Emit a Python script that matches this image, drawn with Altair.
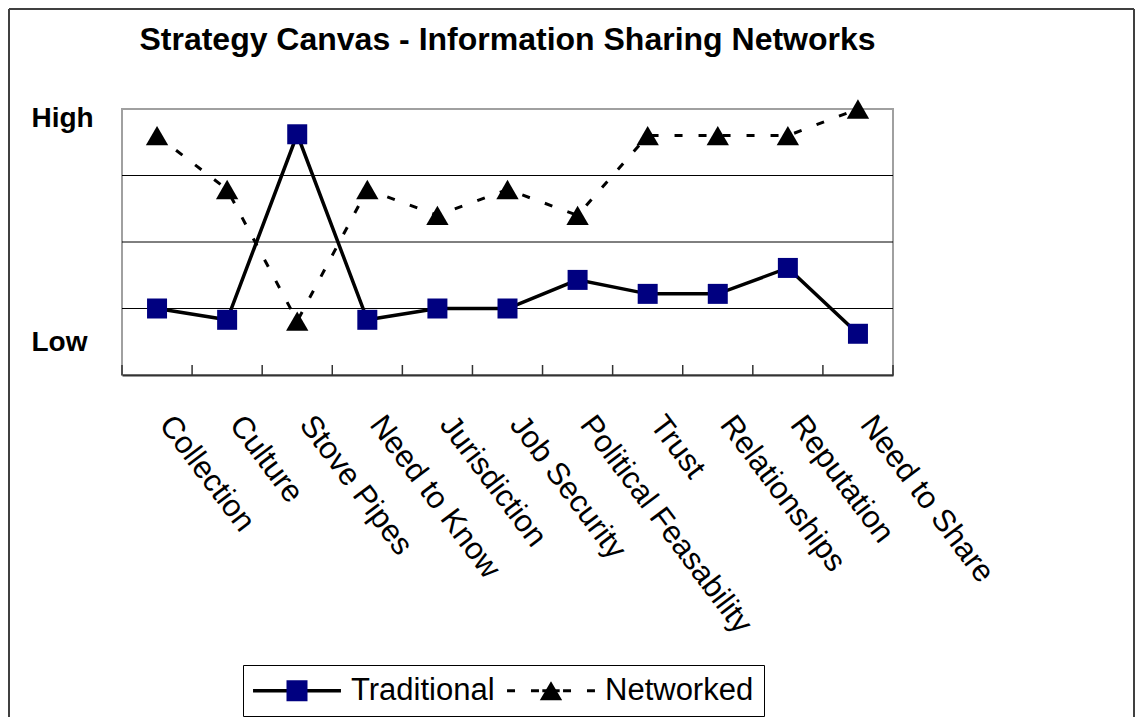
import json
import altair as alt
import pandas as pd

# ---------------- data ----------------
categories = ["Collection", "Culture", "Stove Pipes", "Need to Know", "Jurisdiction",
              "Job Security", "Political Feasability", "Trust", "Relationships",
              "Reputation", "Need to Share"]
traditional = [1.0, 0.83, 3.62, 0.83, 1.0, 1.0, 1.43, 1.22, 1.22, 1.61, 0.62]
networked = [3.60, 2.79, 0.81, 2.79, 2.40, 2.79, 2.40, 3.60, 3.60, 3.60, 4.0]
series_names = ["Traditional", "Networked"]
series_colors = ["#000080", "#000000"]
grid_levels = [1, 2, 3]
level_labels = ["Low", "High"]
level_positions = [0.37, 3.73]
title_text = "Strategy Canvas - Information Sharing Networks"

FONT = "Liberation Sans"
W, H = 771, 266

rows = []
for i, c in enumerate(categories):
    rows.append({"idx": i + 1, "category": c, "series": "Traditional", "value": traditional[i]})
    rows.append({"idx": i + 1, "category": c, "series": "Networked", "value": networked[i]})
df = pd.DataFrame(rows)
bounds_df = pd.DataFrame({"idx": [i + 0.5 for i in range(len(categories) + 1)]})
grid_df = pd.DataFrame({"value": grid_levels})
title_df = pd.DataFrame({"t": [title_text]})
one_df = pd.DataFrame({"k": [0]})

x_label_expr = json.dumps(categories) + "[datum.value - 1]"
y_label_expr = "datum.value > 2 ? '%s' : '%s'" % (level_labels[1], level_labels[0])

x_enc = alt.X(
    "idx:Q",
    scale=alt.Scale(domain=[0.5, len(categories) + 0.5], nice=False, zero=False),
    axis=alt.Axis(values=list(range(1, len(categories) + 1)), labelExpr=x_label_expr,
                  title=None, grid=False, ticks=False, tickSize=0, domain=True,
                  domainColor="#333333", domainWidth=2, labelAngle=53, labelAlign="left",
                  labelBaseline="middle", labelPadding=44, labelOffset=8,
                  labelFontSize=31, labelFont=FONT, labelColor="black",
                  labelFlush=False, labelOverlap=False, labelLimit=500, labelBound=False),
)
y_enc = alt.Y(
    "value:Q",
    scale=alt.Scale(domain=[0, 4], nice=False, zero=False),
    axis=alt.Axis(values=level_positions, labelExpr=y_label_expr, title=None, grid=False,
                  ticks=False, tickSize=0, domain=False, labelAlign="left",
                  labelBaseline="alphabetic", labelPadding=91, labelFontSize=28,
                  labelFontWeight="bold", labelFont=FONT, labelColor="black",
                  labelFlush=False, labelOverlap=False),
)

# legend symbols, unit = 14px; part A = line (black), part B = marker (series colour)
SPAN = "M-3.14,0L3.14,0M0,-0.8L0,0.8"
trad_line_path = "M-3.14,-0.12H3.14V0.12H-3.14Z" + SPAN
net_line_path = ("M-3.14,-0.11H-2.57V0.11H-3.14Z"
                 "M-1.43,-0.11H-0.86V0.11H-1.43Z"
                 "M-0.62,-0.11H0.62V0.11H-0.62Z"
                 "M0.86,-0.11H1.43V0.11H0.86Z"
                 "M2.57,-0.11H3.14V0.11H2.57Z" + SPAN)
trad_mark_path = "M-0.75,-0.75H0.75V0.75H-0.75Z" + SPAN
net_mark_path = "M0,-0.68L0.8,0.68L-0.8,0.68Z" + SPAN

common_legend = dict(orient="none", legendX=121, legendY=556, direction="horizontal",
                     title=None, padding=10, labelFontSize=31, labelFont=FONT,
                     symbolSize=784, symbolOffset=28.5, labelOffset=38.5,
                     columnPadding=12, symbolStrokeWidth=0, symbolOpacity=1)
legend_a = alt.Legend(strokeColor="black", labelColor="black", **common_legend)
legend_b = alt.Legend(labelColor="black", labelOpacity=0, **common_legend)

# ---------------- layers ----------------
frame_left = alt.Chart(one_df).mark_rule(color="#404040", strokeWidth=2).encode(
    x=alt.value(-113), y=alt.value(-100), y2=alt.value(620))
frame_right = alt.Chart(one_df).mark_rule(color="#404040", strokeWidth=2).encode(
    x=alt.value(1012), y=alt.value(-100), y2=alt.value(620))
frame_top = alt.Chart(one_df).mark_rule(color="#404040", strokeWidth=2).encode(
    x=alt.value(-113), x2=alt.value(1012), y=alt.value(-100))

title = alt.Chart(title_df).mark_text(font=FONT, fontSize=32, fontWeight="bold",
                                      align="center", baseline="alphabetic",
                                      color="black").encode(
    text="t:N", x=alt.value(W / 2), y=alt.value(-59))

grid = alt.Chart(grid_df).mark_rule(color="black", strokeWidth=1).encode(y=y_enc)

ticks = alt.Chart(bounds_df).mark_rule(color="#333333", strokeWidth=1.5).encode(
    x=x_enc, y=alt.value(H - 10), y2=alt.value(H))

line_net = alt.Chart(df).transform_filter(alt.datum.series == "Networked").mark_line(
    color="black", strokeWidth=3, strokeDash=[8, 16]).encode(x=x_enc, y=y_enc)
line_trad = alt.Chart(df).transform_filter(alt.datum.series == "Traditional").mark_line(
    color="black", strokeWidth=3.5).encode(x=x_enc, y=y_enc)

pts_net = alt.Chart(df).transform_filter(alt.datum.series == "Networked").mark_point(
    shape="triangle-up", filled=True, size=500, color="black", opacity=1).encode(x=x_enc, y=y_enc)
pts_trad = alt.Chart(df).transform_filter(alt.datum.series == "Traditional").mark_point(
    shape="square", filled=True, size=400, color="#000080", opacity=1).encode(x=x_enc, y=y_enc)

legend_lines = alt.Chart(df).transform_filter("false").mark_point(
    filled=True, color="black", opacity=1).encode(
    x=x_enc, y=y_enc,
    shape=alt.Shape("series:N",
                    scale=alt.Scale(domain=series_names, range=[trad_line_path, net_line_path]),
                    legend=legend_a),
)
legend_marks = alt.Chart(df).transform_filter("false").transform_calculate(
    series_m="datum.series").mark_point(filled=True, opacity=1).encode(
    x=x_enc, y=y_enc,
    shape=alt.Shape("series_m:N",
                    scale=alt.Scale(domain=series_names, range=[trad_mark_path, net_mark_path]),
                    legend=legend_b),
    color=alt.Color("series_m:N", scale=alt.Scale(domain=series_names, range=series_colors),
                    legend=legend_b),
)

chart = alt.layer(
    frame_left, frame_right, frame_top, title, grid, ticks,
    line_net, line_trad, pts_net, pts_trad, legend_lines, legend_marks,
).resolve_scale(shape="independent", color="independent").resolve_legend(
    shape="independent", color="independent").properties(
    width=W, height=H,
    autosize=alt.AutoSizeParams(type="none"),
    padding={"left": 114, "top": 101, "right": 242, "bottom": 342},
).configure(font=FONT).configure_view(stroke="#a0a0a0", strokeWidth=2)

chart.save("out.html", embed_options={"renderer": "svg", "actions": False})
